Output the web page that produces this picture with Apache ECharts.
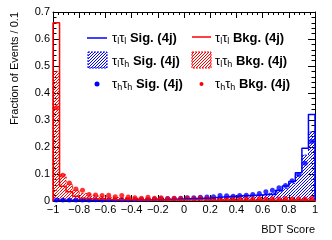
<!DOCTYPE html>
<html><head><meta charset="utf-8">
<script src="https://cdn.jsdelivr.net/npm/echarts@6/dist/echarts.min.js"></script>
<style>html,body{margin:0;padding:0;background:#fff}#c{width:332px;height:240px}</style>
</head><body><div id="c"></div>
<script>
// Bin centers (bin width 0.05)
const binCenters = [-0.975,-0.925,-0.875,-0.825,-0.775,-0.725,-0.675,-0.625,-0.575,-0.525,
  -0.475,-0.425,-0.375,-0.325,-0.275,-0.225,-0.175,-0.125,-0.075,-0.025,
  0.025,0.075,0.125,0.175,0.225,0.275,0.325,0.375,0.425,0.475,
  0.525,0.575,0.625,0.675,0.725,0.775,0.825,0.875,0.925,0.975];
const BIN_W = 0.05;

// tau_l tau_l Sig. (4j) - blue solid line
const llSig = [0.004,0.003,0.003,0.003,0.003,0.003,0.003,0.003,0.003,0.003,
  0.003,0.004,0.004,0.004,0.004,0.005,0.005,0.006,0.006,0.007,
  0.008,0.009,0.010,0.011,0.013,0.015,0.017,0.018,0.019,0.020,
  0.021,0.022,0.024,0.024,0.040,0.056,0.072,0.105,0.195,0.320];
// tau_l tau_h Sig. (4j) - blue hatched
const lhSig = [0.003,0.003,0.003,0.003,0.003,0.003,0.003,0.003,0.003,0.003,
  0.003,0.003,0.003,0.003,0.003,0.004,0.004,0.005,0.005,0.006,
  0.007,0.008,0.009,0.010,0.011,0.012,0.014,0.015,0.017,0.019,
  0.021,0.024,0.027,0.031,0.037,0.047,0.065,0.095,0.170,0.255];
// tau_h tau_h Sig. (4j) - blue points
const hhSig = [0.004,0.004,0.004,0.004,0.004,0.004,0.005,0.004,0.005,0.005,
  0.005,0.005,0.006,0.006,0.006,0.007,0.008,0.009,0.009,0.010,
  0.012,0.012,0.014,0.015,0.016,0.020,0.019,0.018,0.020,0.021,
  0.024,0.028,0.034,0.040,0.049,0.057,0.075,0.098,0.140,0.220];
// tau_l tau_l Bkg. (4j) - red solid line
const llBkg = [0.660,0.055,0.034,0.018,0.010,0.008,0.007,0.006,0.006,0.005,
  0.005,0.005,0.004,0.004,0.004,0.004,0.004,0.004,0.004,0.004,
  0.004,0.004,0.004,0.003,0.003,0.003,0.003,0.003,0.003,0.003,
  0.003,0.003,0.003,0.003,0.003,0.003,0.003,0.003,0.003,0.003];
// tau_l tau_h Bkg. (4j) - red hatched
const lhBkg = [0.480,0.097,0.062,0.040,0.028,0.022,0.018,0.016,0.014,0.013,
  0.012,0.011,0.010,0.010,0.009,0.009,0.008,0.008,0.008,0.007,
  0.007,0.007,0.007,0.006,0.006,0.006,0.006,0.006,0.006,0.006,
  0.005,0.005,0.005,0.005,0.005,0.005,0.005,0.005,0.005,0.006];
// tau_h tau_h Bkg. (4j) - red points
const hhBkg = [0.345,0.095,0.067,0.044,0.040,0.024,0.022,0.020,0.021,0.016,
  0.020,0.015,0.012,0.010,0.014,0.010,0.012,0.008,0.010,0.008,
  0.010,0.008,0.012,0.009,0.010,0.007,0.010,0.011,0.008,0.010,
  0.008,0.009,0.007,0.008,0.007,0.009,0.007,0.008,0.007,0.009];

const xTicks = [-1,-0.8,-0.6,-0.4,-0.2,0,0.2,0.4,0.6,0.8,1];
const yTicks = [0,0.1,0.2,0.3,0.4,0.5,0.6,0.7];

const BLUE = '#0000ff', RED = '#ff0000';
const FONT = '"Liberation Sans", Arial, Helvetica, sans-serif';
const HATCH_STEP = 3;

// diagonal "////" hatch lines clipped to a pixel rectangle
function hatchLines(x0, y0, x1, y1, color){
  const out = [];
  const cStart = Math.ceil((x0 + y0) / HATCH_STEP) * HATCH_STEP;
  for (let c = cStart; c <= x1 + y1; c += HATCH_STEP){
    const xa = Math.max(x0, c - y1), xb = Math.min(x1, c - y0);
    if (xb <= xa) continue;
    out.push({type:'line', silent:true, shape:{x1:xa, y1:c - xa, x2:xb, y2:c - xb},
      style:{stroke:color, lineWidth:1}});
  }
  return out;
}

function pts(vals){ return binCenters.map((x,i)=>[x, vals[i]]); }
function stepData(vals){
  const d = [[binCenters[0]-BIN_W/2, 0]];
  binCenters.forEach((x,i)=>d.push([x-BIN_W/2, vals[i]]));
  const last = binCenters[binCenters.length-1] + BIN_W/2;
  d.push([last, vals[vals.length-1]]); d.push([last, 0]);
  return d;
}
function hatchSeries(vals, color){
  return {type:'custom', data: pts(vals), clip: true, silent: true,
    renderItem: function(params, api){
      const x = api.value(0), y = api.value(1);
      const p0 = api.coord([x - BIN_W/2, y]);
      const p1 = api.coord([x + BIN_W/2, 0]);
      return {type:'group', children: hatchLines(p0[0], p0[1], p1[0], p1[1], color)};
    }};
}
function stepSeries(vals, color, width, type){
  return {type:'line', step:'end', data: stepData(vals), symbol:'none', silent:true,
    lineStyle:{color: color, width: width, type: type || 'solid'}, animation:false};
}
function ptSeries(vals, color){
  return {type:'scatter', data: pts(vals), symbol:'circle', symbolSize:5, silent:true,
    itemStyle:{color: color}};
}

const fmtX = v => { const r = Math.round(v*10)/10; return (r===0?'0':String(r)).replace('-','\u2212'); };
const fmtY = v => { const r = Math.round(v*10)/10; return r===0?'0':r.toFixed(1); };

function xAxis(pos, showLabel){
  return {type:'value', position:pos, min:xTicks[0], max:xTicks[xTicks.length-1], interval:0.2,
    axisLine:{show:true, onZero:false, lineStyle:{color:'#000', width:1}},
    axisTick:{show:true, inside:true, length:6, lineStyle:{color:'#000'}},
    minorTick:{show:true, splitNumber:5, length:3, lineStyle:{color:'#000'}},
    splitLine:{show:false}, minorSplitLine:{show:false},
    axisLabel:{show:showLabel, formatter:fmtX, color:'#000', fontSize:11, fontFamily:FONT, margin:3,
      showMinLabel:true, showMaxLabel:true}};
}
function yAxis(pos, showLabel){
  return {type:'value', position:pos, min:yTicks[0], max:yTicks[yTicks.length-1], interval:0.1,
    axisLine:{show:true, onZero:false, lineStyle:{color:'#000', width:1}},
    axisTick:{show:true, inside:true, length:7, lineStyle:{color:'#000'}},
    minorTick:{show:true, splitNumber:5, length:3.5, lineStyle:{color:'#000'}},
    splitLine:{show:false}, minorSplitLine:{show:false},
    axisLabel:{show:showLabel, formatter:fmtY, color:'#000', fontSize:11, fontFamily:FONT, margin:3}};
}

const rich = {
  t:{fontSize:13, fontFamily:FONT, fill:'#000'},
  s:{fontSize:9, fontFamily:FONT, fill:'#000', padding:[7,0,0,0], lineHeight:10},
  b:{fontSize:13, fontFamily:FONT, fontWeight:'bold', fill:'#000'}
};
function legText(x, y, sub1, sub2, word){
  return {type:'text', left:x, top:y-8, silent:true,
    style:{text:'{t|\u03c4}{s|'+sub1+'}{t|\u03c4}{s|'+sub2+'} {b|'+word+'}', rich:rich, fill:'#000', font:'13px '+FONT}};
}
function legBox(x, y, w, h, color){
  return {type:'group', silent:true, children: hatchLines(x, y, x+w, y+h, color).concat([
    {type:'rect', shape:{x:x, y:y, width:w, height:h}, style:{fill:null, stroke:color, lineWidth:1, lineDash:[2,1]}}
  ])};
}

const chart = echarts.init(document.getElementById('c'), null, {renderer:'canvas'});
chart.setOption({
  animation:false,
  backgroundColor:'#fff',
  grid:{left:53, right:17, top:12, bottom:39},
  xAxis:[xAxis('bottom', true), xAxis('top', false)],
  yAxis:[yAxis('left', true), yAxis('right', false)],
  series:[
    hatchSeries(lhSig, BLUE),
    hatchSeries(lhBkg, RED),
    stepSeries(lhSig, BLUE, 1, [2,2]),
    stepSeries(lhBkg, RED, 1, [2,2]),
    stepSeries(llSig, BLUE, 1.5),
    stepSeries(llBkg, RED, 1.5),
    ptSeries(hhSig, BLUE),
    ptSeries(hhBkg, RED)
  ],
  graphic:[
    {type:'text', x:15, y:12, rotation:Math.PI/2, silent:true,
      style:{text:'Fraction of Events / 0.1', font:'11px '+FONT, fill:'#000', align:'right', verticalAlign:'middle'}},
    {type:'text', x:315, y:230, silent:true,
      style:{text:'BDT Score', font:'11px '+FONT, fill:'#000', align:'right', verticalAlign:'middle'}},
    // legend left column
    {type:'line', shape:{x1:87, y1:38, x2:107, y2:38}, style:{stroke:BLUE, lineWidth:1.5}, silent:true},
    legBox(88, 52, 19, 16, BLUE),
    {type:'circle', shape:{cx:97, cy:84, r:2.5}, style:{fill:BLUE}, silent:true},
    legText(112, 38, 'l', 'l', 'Sig. (4j)'),
    legText(112, 61, 'l', 'h', 'Sig. (4j)'),
    legText(112, 84, 'h', 'h', 'Sig. (4j)'),
    // legend right column
    {type:'line', shape:{x1:192, y1:37, x2:211, y2:37}, style:{stroke:RED, lineWidth:1.5}, silent:true},
    legBox(192, 52, 19, 16, RED),
    {type:'circle', shape:{cx:201.5, cy:84, r:2}, style:{fill:RED}, silent:true},
    legText(215, 38, 'l', 'l', 'Bkg. (4j)'),
    legText(215, 61, 'l', 'h', 'Bkg. (4j)'),
    legText(215, 84, 'h', 'h', 'Bkg. (4j)')
  ]
});
</script>
</body></html>
